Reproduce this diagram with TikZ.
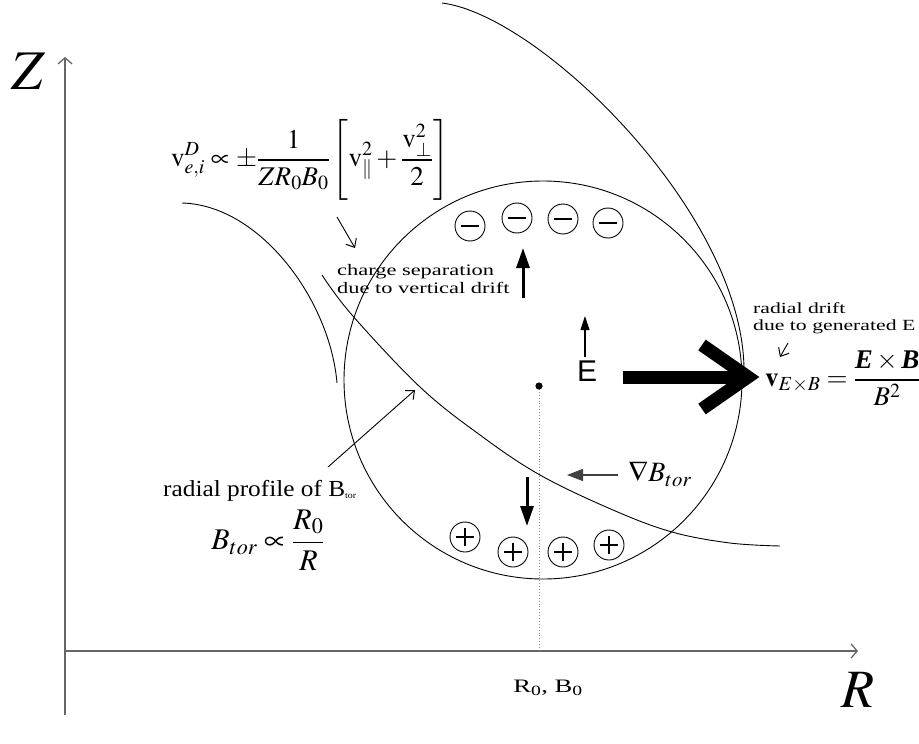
\documentclass[tikz,border=0pt]{standalone}
\usepackage{mathptmx}
\usepackage{amsmath}
\usepackage{fontspec}
\setmainfont{Liberation Serif}
\newfontfamily\widefont[FakeStretch=1.4]{Liberation Serif}
\newfontfamily\midfont[FakeStretch=1.1]{Liberation Serif}
\newfontfamily\esans{Liberation Sans}
\usetikzlibrary{arrows.meta}
\newcommand{\fs}[1]{\fontsize{#1}{#1}\selectfont}
\begin{document}
\begin{tikzpicture}[x=1pt,y=-1pt,
  curve/.style={line width=0.9pt, black},
  axisline/.style={line width=1.3pt, black!60, -{Straight Barb[length=6pt,width=14pt,line width=1.3pt]}},
  thinarrow/.style={line width=0.9pt, -{Straight Barb[length=7pt,width=12pt,line width=1pt]}},
  fatarrow/.style={line width=3pt, -{Triangle[length=20pt,width=13pt]}},
  charge/.style={circle, draw, line width=0.9pt, minimum size=30pt, inner sep=0pt},
  negcharge/.style={charge, path picture={\draw[line width=1.8pt] ([xshift=-9pt]path picture bounding box.center) -- ([xshift=9pt]path picture bounding box.center);}},
  poscharge/.style={charge, path picture={\draw[line width=1.6pt] ([xshift=-9pt]path picture bounding box.center) -- ([xshift=9pt]path picture bounding box.center) ([yshift=-9pt]path picture bounding box.center) -- ([yshift=9pt]path picture bounding box.center);}},
  lbl/.style={inner sep=0pt, align=left},
]
\useasboundingbox (0,0) rectangle (919,744);

% axes
\coordinate (zbot) at (65,715);
\coordinate (ztop) at (65,57);
\coordinate (rleft) at (65,651);
\coordinate (rright) at (858,651);
\draw[axisline] (zbot) -- (ztop);
\draw[axisline] (rleft) -- (rright);
\node[inner sep=0pt] (zlab) at (28,71) {\fs{56}$Z$};
\node[inner sep=0pt] (rlab) at (858,690) {\fs{54}$R$};
\node[inner sep=0pt] (r0lab) at (548,688) {\widefont\fs{19}R\textsubscript{0}, B\textsubscript{0}};

% plasma cross-section
\coordinate (c0) at (543,380);
\draw[curve] (c0) circle[radius=199pt];
\coordinate (dot) at (539,386);
\coordinate (dotfoot) at (539,651);
\draw[black!45, dotted, line width=0.9pt] (dot) -- (dotfoot);
\fill (dot) circle[radius=3.6pt];

% curves
\draw[curve] (442,3) .. controls (540,15) and (745,215) .. (744,372);
\draw[curve] (182,203) .. controls (260,205) and (330,300) .. (337,383);
\draw[curve] plot[smooth, tension=0.6] coordinates {(322,275) (352,315) (420,387) (480,435) (540,475) (613,510) (672,532) (730,543) (780,546)};

% charges
\node[negcharge] (m1) at (470,226) {};
\node[negcharge] (m2) at (517,218) {};
\node[negcharge] (m3) at (563,219) {};
\node[negcharge] (m4) at (608,223) {};
\node[poscharge] (p1) at (465,537) {};
\node[poscharge] (p2) at (513,552) {};
\node[poscharge] (p3) at (563,552) {};
\node[poscharge] (p4) at (609,545) {};

% vertical drift arrows
\coordinate (upA) at (523,298);
\coordinate (upB) at (523,248);
\draw[fatarrow] (upA) -- (upB);
\coordinate (dnA) at (527,477);
\coordinate (dnB) at (527,526);
\draw[fatarrow] (dnA) -- (dnB);

% E field
\node[inner sep=0pt] (elab) at (587,371) {\esans\fs{30}E};
\coordinate (eA) at (585,357);
\coordinate (eB) at (585,316);
\draw[line width=1.1pt, -{Triangle[length=14pt,width=9pt]}] (eA) -- (eB);

% big ExB arrow
\coordinate (bA) at (623,377);
\coordinate (bB) at (745,377);
\coordinate (bU) at (702,345);
\coordinate (bT) at (748,377);
\coordinate (bL) at (702,409);
\draw[line width=13pt] (bA) -- (bB);
\draw[line width=13pt, line join=miter] (bU) -- (bT) -- (bL);

% grad B
\coordinate (gA) at (618,475);
\coordinate (gB) at (567,475);
\draw[line width=1.5pt, black!75, -{Triangle[length=16pt,width=12pt]}] (gA) -- (gB);
\node[inner sep=0pt] (glab) at (660,474) {\fs{28}$\nabla B_{tor}$};

% top formula
\node[inner sep=0pt] (vdform) at (310,160) {\fs{27}$\displaystyle \mathrm{v}^{D}_{e,i} \propto \pm\frac{1}{ZR_0B_0}\left[\vphantom{\frac{1}{Z_0}}\mathrm{v}_{\parallel}^{2}+\frac{\mathrm{v}_{\perp}^{2}}{2}\right]$};
\coordinate (f1A) at (337,217);
\coordinate (f1B) at (355,248);
\draw[thinarrow] (f1A) -- (f1B);
\node[lbl, anchor=west, font=\widefont\fs{16}] (csep) at (337,279) {charge separation\\[2pt]due to vertical drift};

% radial profile
\node[lbl, anchor=base west, font=\midfont\fs{23}] (rprof) at (163,496) {radial profile of B\raisebox{-2pt}{\fs{9}tor}};
\node[inner sep=0pt] (bform) at (268,540) {\fs{30}$B_{tor}\propto\dfrac{R_0}{R}$};
\coordinate (rpA) at (328,467);
\coordinate (rpB) at (415,390);
\draw[thinarrow] (rpA) -- (rpB);

% radial drift
\node[lbl, anchor=west, font=\widefont\fs{15.5}] (rdrift) at (753,318) {radial drift\\[2pt]due to generated E};
\coordinate (rdA) at (788,343);
\coordinate (rdB) at (780,357);
\draw[thinarrow] (rdA) -- (rdB);
\node[inner sep=0pt, anchor=west] (exbform) at (765,378) {\fs{27}$\mathbf{v}_{E\times B}=\dfrac{\text{\bfseries\itshape E}\times\text{\bfseries\itshape B}}{B^{2}}$};
\end{tikzpicture}
\end{document}
